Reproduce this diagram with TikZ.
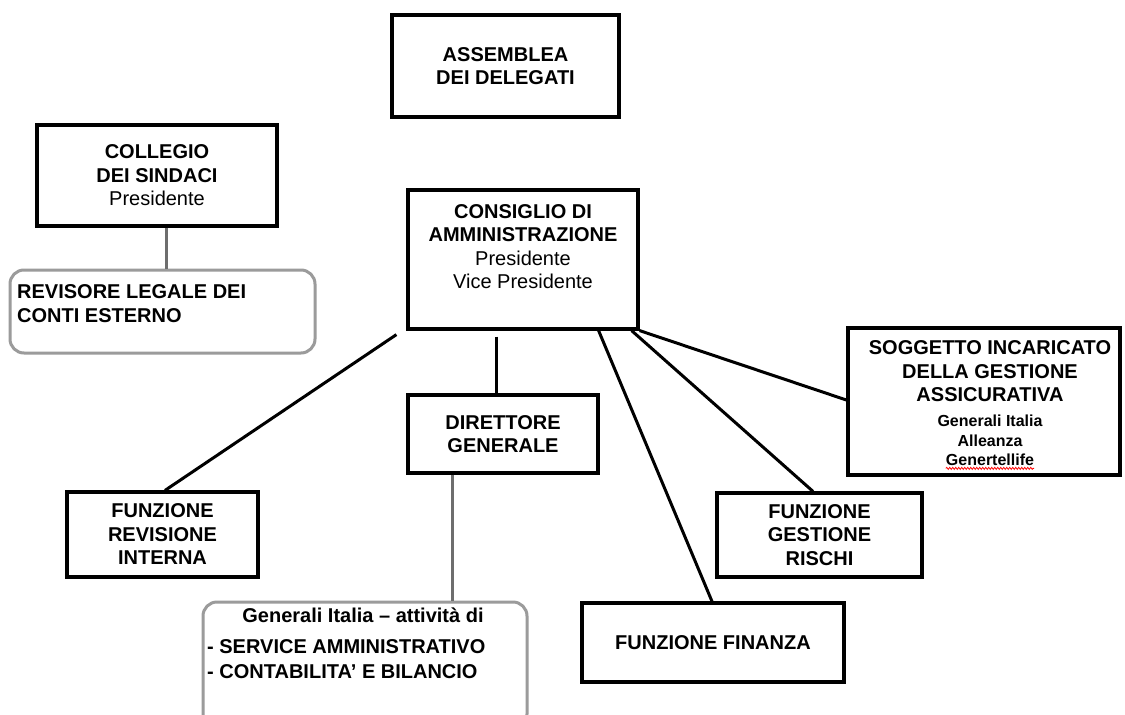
\documentclass[tikz,border=0pt]{standalone}
\usepackage{fontspec}
\setmainfont{Liberation Sans}
\usetikzlibrary{decorations.pathmorphing}
\definecolor{gborder}{RGB}{155,155,155}
\definecolor{gline}{RGB}{110,110,110}
\begin{document}
\begin{tikzpicture}[x=1pt,y=-1pt,
  blk/.style={draw=black,line width=3.2pt,rectangle,inner sep=0pt,align=center,
    font=\bfseries\fontsize{20}{23.5}\selectfont},
  gbox/.style={draw=gborder,line width=3pt,rectangle,rounded corners=14pt,inner sep=0pt},
  txt/.style={inner sep=0pt,align=center,font=\bfseries\fontsize{20}{23.5}\selectfont},
  small/.style={inner sep=0pt,align=center,font=\bfseries\fontsize{16}{20}\selectfont},
  conn/.style={line width=3pt,draw=black},
  gconn/.style={line width=3pt,draw=gline}]
\useasboundingbox[fill=white] (0,0) rectangle (1125,715);

% boxes
\node[blk,minimum width=227pt,minimum height=102pt] (asm) at (505.5,66) {ASSEMBLEA\\DEI DELEGATI};
\node[blk,minimum width=240pt,minimum height=101pt] (col) at (157,175.5) {COLLEGIO\\DEI SINDACI\\\mdseries Presidente};
\node[gbox,minimum width=305pt,minimum height=83pt] (rev) at (162.5,311.5) {};
\node[txt,anchor=base west,align=left] (revt) at (17,322) {REVISORE LEGALE DEI\\CONTI ESTERNO};
\node[blk,minimum width=230pt,minimum height=139pt] (cda) at (523,259.5) {};
\node[txt] (cdat) at (523,246.5) {CONSIGLIO DI\\AMMINISTRAZIONE\\\mdseries Presidente\\\mdseries Vice Presidente};
\node[blk,minimum width=190pt,minimum height=78pt] (dg) at (503,434) {DIRETTORE\\GENERALE};
\node[blk,minimum width=191pt,minimum height=85pt] (fri) at (162.5,534.5) {FUNZIONE\\REVISIONE\\INTERNA};
\node[blk,minimum width=262pt,minimum height=79pt] (fin) at (713,642.5) {FUNZIONE FINANZA};
\node[blk,minimum width=205pt,minimum height=84pt] (gr) at (819.5,535) {FUNZIONE\\GESTIONE\\RISCHI};
\node[blk,minimum width=272pt,minimum height=147pt] (sog) at (984,401.5) {};
\node[txt] (sogt) at (990,371.5) {SOGGETTO INCARICATO\\DELLA GESTIONE\\ASSICURATIVA};
\node[small,anchor=base] (sogs) at (990,446) {Generali Italia\\Alleanza};
\node[small,anchor=base] (gtl) at (990,465) {Genertellife};
\draw[red,line width=0.8pt,decorate,decoration={snake,amplitude=1pt,segment length=3pt}]
  ([yshift=-3pt]gtl.south west) -- ([yshift=-3pt]gtl.south east);
\node[gbox,minimum width=324pt,minimum height=126pt] (gen) at (365,665) {};
\node[txt,anchor=base] (gen1) at (363,622) {Generali Italia -- attività di};
\node[txt,anchor=base west] (gen2) at (207,653) {- SERVICE AMMINISTRATIVO};
\node[txt,anchor=base west] (gen3) at (207,678) {- CONTABILITA’ E BILANCIO};

% connectors
\draw[gconn] ([xshift=9pt]col.south) -- ([xshift=9pt]col.south |- rev.north);
\draw[conn] ([xshift=-27pt,yshift=-6pt]cda.south) -- ([xshift=-7pt]dg.north);
\draw[gconn] ([xshift=-51pt]dg.south) -- ([xshift=87pt]gen.north);
\draw[conn] ([xshift=-10pt,yshift=-4pt]cda.south west) -- ([xshift=2.5pt]fri.north);
\draw[conn] ([xshift=-41pt]cda.south east) -- ([xshift=-1pt]fin.north);
\draw[conn] ([xshift=-8pt]cda.south east) -- ([xshift=-6.5pt]gr.north);
\draw[conn] (cda.south east) -- ([yshift=1.5pt]sog.west);
\end{tikzpicture}
\end{document}
